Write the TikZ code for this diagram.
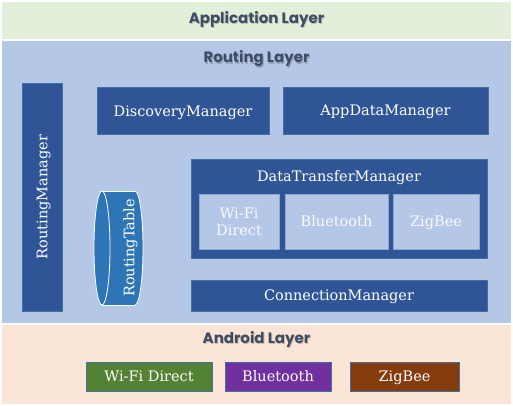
\documentclass[tikz,border=0pt]{standalone}
\usepackage{fontspec}
\setmainfont{DejaVu Serif}
\newfontfamily\headfont{Poppins}

\definecolor{appgreen}{HTML}{E2EFDA}
\definecolor{routeblue}{HTML}{B4C7E7}
\definecolor{droidpeach}{HTML}{FBE5D6}
\definecolor{mgrblue}{HTML}{2F5597}
\definecolor{edgeblue}{HTML}{41719C}
\definecolor{tableblue}{HTML}{2E75B6}
\definecolor{headgray}{HTML}{3E4C64}
\definecolor{wifigreen}{HTML}{548235}
\definecolor{btpurple}{HTML}{7030A0}
\definecolor{zbbrown}{HTML}{843C0C}

\begin{document}
\begin{tikzpicture}[x=1pt, y=-1pt,
  layer/.style={minimum width=509pt, inner sep=0pt},
  head/.style={text=headgray, font=\headfont\bfseries\fontsize{15}{17}\selectfont},
  shade/.style={text=black, opacity=.18, font=\headfont\bfseries\fontsize{15}{17}\selectfont},
  label/.style={text=white, text height=10.5pt, text depth=0pt, font=\fontsize{14.5}{17}\selectfont},
  mgr/.style={fill=mgrblue, draw=edgeblue, line width=0.8pt, text=white, inner sep=0pt,
    text height=10.5pt, text depth=0pt, font=\fontsize{14.5}{17}\selectfont},
  slot/.style={fill=routeblue, draw=edgeblue!60, line width=0.8pt, text=white!92!routeblue,
    inner sep=0pt, align=center, minimum height=55pt, font=\fontsize{14.5}{17}\selectfont},
  radio/.style={draw=edgeblue, line width=0.8pt, text=white, inner sep=0pt,
    text height=10.5pt, text depth=0pt, minimum height=29pt, font=\fontsize{14.5}{17}\selectfont}
]
\useasboundingbox (0,0) rectangle (513,406);

% Layers
\node[layer, fill=appgreen, minimum height=37pt] (app) at (256.5,20.5) {};
\node[layer, fill=routeblue, minimum height=282pt] (routing) at (256.5,182) {};
\node[layer, fill=droidpeach, minimum height=79pt] (android) at (256.5,364.5) {};

% Layer titles (with a soft shadow)
\node[shade] at (257.5,20.5) {Application Layer};
\node[head] (apptitle) at (256.5,19) {Application Layer};
\node[shade] at (257.5,60.5) {Routing Layer};
\node[head] (routetitle) at (256.5,59) {Routing Layer};
\node[shade] at (257.5,340.5) {Android Layer};
\node[head] (droidtitle) at (256.5,339) {Android Layer};

% Routing layer managers
\node[mgr, minimum width=40pt, minimum height=228pt] (rmgr) at (42,197) {};
\node[label, rotate=90] (rmgrlabel) at (rmgr) {RoutingManager};
\node[mgr, minimum width=172pt, minimum height=47pt] (discovery) at (183,111) {DiscoveryManager};
\node[mgr, minimum width=205pt, minimum height=47pt] (appdata) at (385.5,110.5) {AppDataManager};
\node[mgr, minimum width=296pt, minimum height=99pt] (transfer) at (339,208.5) {};
\node[label] (transferlabel) at (339,176) {DataTransferManager};
\node[mgr, minimum width=296pt, minimum height=31pt] (connection) at (339,295.5) {ConnectionManager};

% Transfer slots
\node[slot, minimum width=80pt] (slotwifi) at (239,221.5) {Wi-Fi\\Direct};
\node[slot, minimum width=103pt, text height=10.5pt, text depth=0pt] (slotbt) at (336.5,221.5) {Bluetooth};
\node[slot, minimum width=86pt, text height=10.5pt, text depth=0pt] (slotzb) at (436,221.5) {ZigBee};

% Routing table (cylinder)
\filldraw[fill=tableblue, draw=white, line width=0.8pt] (135,248) ellipse (8 and 57);
\fill[tableblue] (102,191) rectangle (135,305);
\draw[white, line width=0.8pt] (102,191) -- (135,191) (102,305) -- (135,305);
\filldraw[fill=tableblue, draw=white, line width=0.8pt] (102,248) ellipse (8 and 57);
\node[label, rotate=90] (rtable) at (129,248) {RoutingTable};

% Android radios
\node[radio, fill=wifigreen, minimum width=126pt] (wifi) at (149,376.5) {Wi-Fi Direct};
\node[radio, fill=btpurple, minimum width=106pt] (bt) at (278,376.5) {Bluetooth};
\node[radio, fill=zbbrown, minimum width=109pt] (zb) at (404.5,376.5) {ZigBee};

\end{tikzpicture}
\end{document}
